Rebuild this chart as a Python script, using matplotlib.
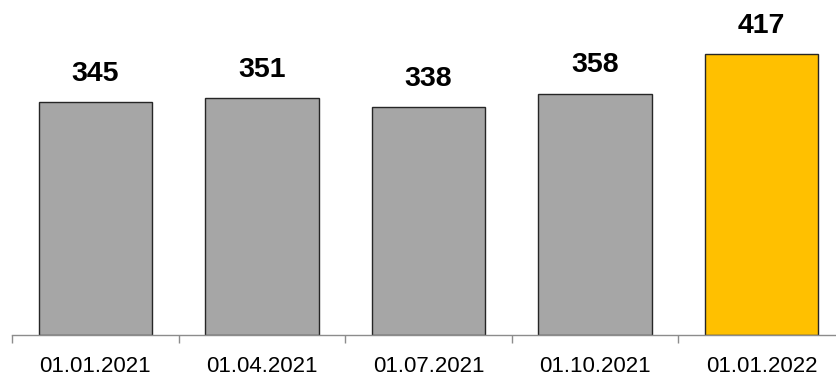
import matplotlib
matplotlib.use("Agg")
import matplotlib.pyplot as plt
from matplotlib.ticker import FixedLocator

categories = ["01.01.2021", "01.04.2021", "01.07.2021", "01.10.2021", "01.01.2022"]
values = [345, 351, 338, 358, 417]
colors = ["#A6A6A6", "#A6A6A6", "#A6A6A6", "#A6A6A6", "#FFC000"]

W, H = 836, 377
fig = plt.figure(figsize=(W / 100, H / 100), dpi=100)
left = 12 / W
bottom = (H - 334.5) / H
ax = fig.add_axes([left, bottom, 833 / W, 334.5 / H])

x = list(range(len(categories)))
bars = ax.bar(x, values, width=0.68, color=colors, edgecolor="#262626", linewidth=1.0, zorder=2)
ax.set_xlim(-0.5, len(categories) - 0.5)
ax.set_ylim(0, 497)

for xi, v in zip(x, values):
    ax.annotate(str(v), (xi, v), xytext=(0, 11), textcoords="offset points",
                ha="center", va="bottom", fontsize=20.5, fontweight="bold",
                family="Liberation Sans", color="#000000")

for s in ["top", "right", "left"]:
    ax.spines[s].set_visible(False)
ax.spines["bottom"].set_color("#8C8C8C")
ax.spines["bottom"].set_linewidth(1.0)
ax.set_yticks([])
ax.set_xticks(x)
ax.set_xticklabels(categories, fontsize=16, family="Liberation Sans", color="#000000")
ax.tick_params(axis="x", which="major", length=0, pad=15.5)
ax.xaxis.set_minor_locator(FixedLocator([i - 0.5 for i in range(len(categories) + 1)]))
ax.tick_params(axis="x", which="minor", length=6, color="#8C8C8C", width=1.0)

fig.savefig("out.png", dpi=100)
